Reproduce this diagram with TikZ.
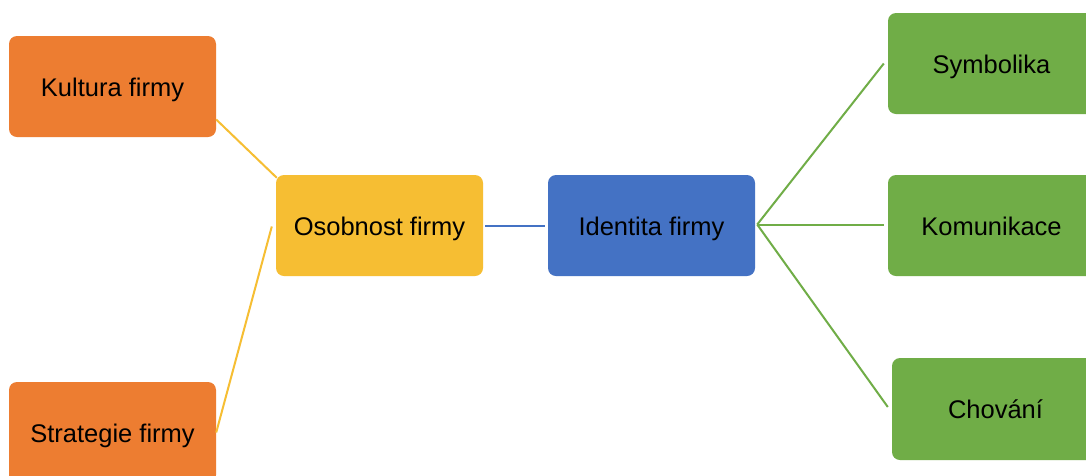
\documentclass[tikz,border=0pt]{standalone}
\usepackage{fontspec}
\setmainfont{Liberation Sans}
\definecolor{corange}{HTML}{ED7D31}
\definecolor{cyellow}{HTML}{F6BE33}
\definecolor{cblue}{HTML}{4472C4}
\definecolor{cgreen}{HTML}{70AD47}
\tikzset{
  boxbase/.style={rounded corners=8pt, minimum width=207pt, minimum height=101pt, inner sep=0pt,
    font=\fontsize{25.5}{30}\selectfont, text=black, text height=21pt, text depth=2pt},
  orangebox/.style={boxbase, fill=corange},
  yellowbox/.style={boxbase, fill=cyellow},
  bluebox/.style={boxbase, fill=cblue},
  greenbox/.style={boxbase, fill=cgreen},
  link/.style={line width=2pt},
}
\begin{document}
\begin{tikzpicture}[x=1pt,y=-1pt]
\useasboundingbox (0,0) rectangle (1086,475);
\clip (0,0) rectangle (1086,475);
\fill[white] (0,0) rectangle (1086,475);
\node[orangebox] (kul) at (112.5,86.5) {Kultura firmy};
\node[orangebox] (str) at (112.5,432.5) {Strategie firmy};
\node[yellowbox] (os) at (379.5,225.5) {Osobnost firmy};
\node[bluebox] (id) at (651.5,225.5) {Identita firmy};
\node[greenbox] (sym) at (991.5,63.5) {Symbolika};
\node[greenbox] (kom) at (991.5,225.5) {Komunikace};
\node[greenbox, minimum height=102pt] (cho) at (995.5,409) {Chování};
\draw[link, cyellow] ([yshift=-33pt]kul.east) -- ([shift={(1pt,-3pt)}]os.north west);
\draw[link, cyellow] (str.east) -- ([xshift=-4pt,yshift=-1pt]os.west);
\draw[link, cblue] ([xshift=2pt]os.east) -- ([xshift=-3pt]id.west);
\draw[link, cgreen] ([xshift=2pt,yshift=1pt]id.east) -- ([xshift=-4pt]sym.west);
\draw[link, cgreen] ([xshift=2pt,yshift=1pt]id.east) -- ([xshift=-4pt,yshift=1pt]kom.west);
\draw[link, cgreen] ([xshift=2pt,yshift=1pt]id.east) -- ([xshift=-4pt,yshift=2pt]cho.west);
\end{tikzpicture}
\end{document}
